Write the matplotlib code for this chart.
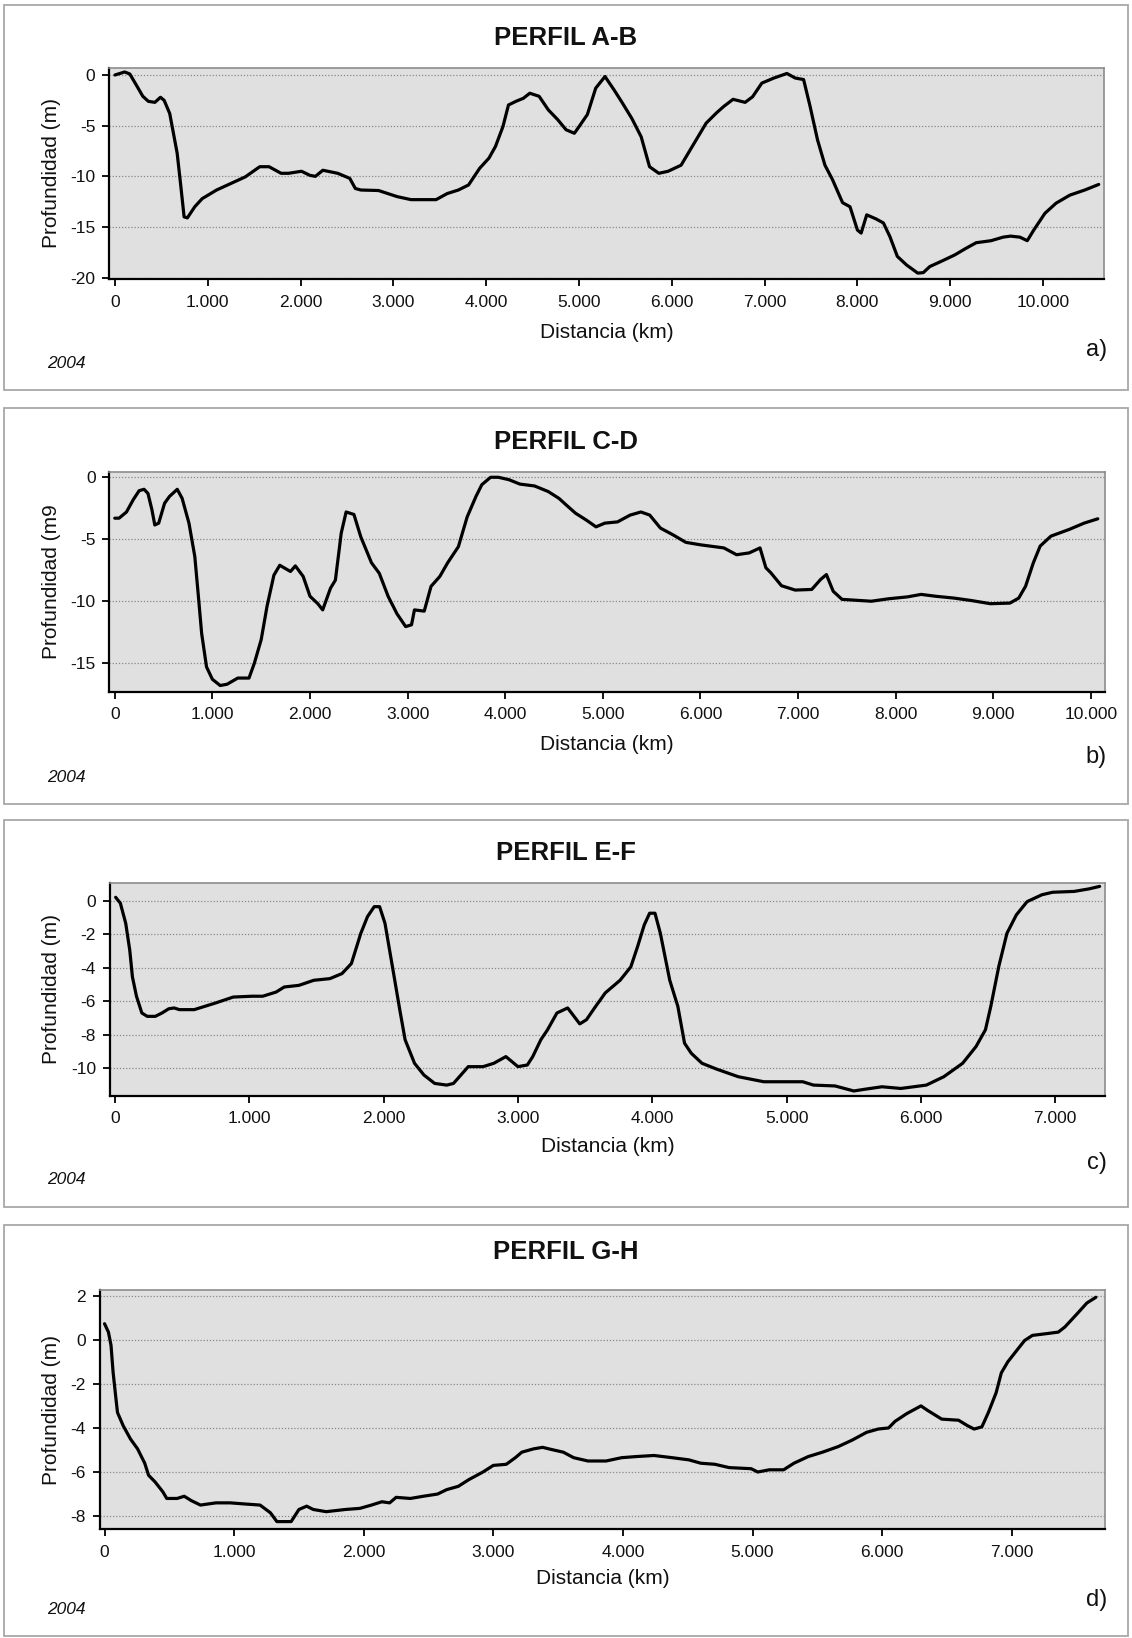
import matplotlib
matplotlib.use("Agg")
import matplotlib.pyplot as plt
from matplotlib.patches import Rectangle
from matplotlib.ticker import FixedLocator, FuncFormatter

# ---------------- data ----------------
titles = ["PERFIL A-B", "PERFIL C-D", "PERFIL E-F", "PERFIL G-H"]
ylabels = ["Profundidad (m)", "Profundidad (m9", "Profundidad (m)", "Profundidad (m)"]
xlabel = "Distancia (km)"
tags = ["a)", "b)", "c)", "d)"]
year = "2004"

# distance in thousands (tick label "1.000" = 1)
dist_ab = [0, 0.105, 0.16, 0.24, 0.30, 0.36, 0.43, 0.49, 0.53, 0.59,
           0.63, 0.67, 0.71, 0.745, 0.78, 0.86, 0.94, 1.095, 1.25, 1.405,
           1.56, 1.66, 1.79, 1.87, 2.01, 2.10, 2.16, 2.24, 2.40, 2.53,
           2.59, 2.65, 2.84, 3.04, 3.19, 3.46, 3.58, 3.70, 3.81, 3.93,
           4.03, 4.10, 4.18, 4.24, 4.32, 4.40, 4.47, 4.57, 4.67, 4.77,
           4.86, 4.95, 5.00, 5.09, 5.18, 5.28, 5.38, 5.47, 5.57, 5.67,
           5.76, 5.86, 5.96, 6.10, 6.23, 6.37, 6.48, 6.56, 6.66, 6.79,
           6.87, 6.97, 7.10, 7.24, 7.33, 7.42, 7.49, 7.57, 7.65, 7.73,
           7.84, 7.92, 8.00, 8.04, 8.10, 8.20, 8.28, 8.35, 8.43, 8.53,
           8.65, 8.71, 8.78, 8.90, 9.05, 9.17, 9.28, 9.44, 9.57, 9.65,
           9.75, 9.83, 9.90, 10.02, 10.14, 10.29, 10.45, 10.60]
depth_ab = [0.0, 0.3, 0.1, -1.15, -2.1, -2.6, -2.7, -2.2, -2.5, -3.8,
            -5.75, -7.7, -11.0, -14.0, -14.1, -13.0, -12.2, -11.35, -10.7, -10.05,
            -9.05, -9.05, -9.7, -9.7, -9.5, -9.9, -10.0, -9.4, -9.7, -10.2,
            -11.2, -11.35, -11.4, -12.0, -12.3, -12.3, -11.7, -11.35, -10.85, -9.2,
            -8.2, -7.05, -5.1, -2.96, -2.6, -2.3, -1.8, -2.1, -3.45, -4.4,
            -5.4, -5.75, -5.1, -3.9, -1.3, -0.15, -1.5, -2.8, -4.3, -6.1,
            -9.05, -9.7, -9.5, -8.9, -6.9, -4.75, -3.75, -3.1, -2.4, -2.7,
            -2.15, -0.8, -0.3, 0.15, -0.3, -0.45, -3.1, -6.4, -8.9, -10.3,
            -12.6, -13.0, -15.3, -15.6, -13.8, -14.2, -14.6, -15.95, -17.9, -18.75,
            -19.55, -19.5, -18.9, -18.4, -17.75, -17.1, -16.55, -16.35, -16.0, -15.9,
            -16.0, -16.35, -15.3, -13.65, -12.65, -11.85, -11.35, -10.8]

dist_cd = [0, 0.044, 0.12, 0.19, 0.25, 0.30, 0.34, 0.38, 0.41, 0.45,
           0.51, 0.56, 0.64, 0.69, 0.76, 0.82, 0.86, 0.89, 0.94, 1.00,
           1.08, 1.15, 1.26, 1.375, 1.43, 1.50, 1.56, 1.63, 1.69, 1.80,
           1.85, 1.93, 2.00, 2.08, 2.13, 2.21, 2.26, 2.32, 2.37, 2.45,
           2.52, 2.63, 2.71, 2.80, 2.89, 2.98, 3.04, 3.07, 3.17, 3.24,
           3.33, 3.41, 3.52, 3.61, 3.70, 3.76, 3.85, 3.93, 4.04, 4.15,
           4.30, 4.44, 4.55, 4.62, 4.72, 4.83, 4.93, 5.02, 5.15, 5.28,
           5.39, 5.48, 5.59, 5.72, 5.85, 6.00, 6.24, 6.37, 6.50, 6.61,
           6.67, 6.72, 6.83, 6.97, 7.14, 7.23, 7.29, 7.36, 7.45, 7.75,
           7.93, 8.12, 8.26, 8.41, 8.60, 8.78, 8.97, 9.17, 9.26, 9.33,
           9.41, 9.48, 9.59, 9.78, 9.93, 10.07]
depth_cd = [-3.3, -3.3, -2.8, -1.8, -1.08, -0.97, -1.3, -2.6, -3.85, -3.7,
            -2.1, -1.55, -0.97, -1.7, -3.7, -6.4, -9.9, -12.6, -15.3, -16.3,
            -16.8, -16.7, -16.2, -16.2, -15.0, -13.1, -10.4, -7.9, -7.1, -7.6,
            -7.15, -8.0, -9.6, -10.2, -10.7, -8.95, -8.3, -4.5, -2.8, -3.0,
            -4.8, -6.9, -7.75, -9.6, -11.0, -12.05, -11.9, -10.7, -10.8, -8.8,
            -8.0, -6.9, -5.6, -3.2, -1.55, -0.6, 0.0, 0.0, -0.2, -0.55,
            -0.7, -1.15, -1.7, -2.2, -2.9, -3.45, -4.0, -3.7, -3.6, -3.05,
            -2.8, -3.05, -4.1, -4.65, -5.25, -5.45, -5.7, -6.25, -6.1, -5.7,
            -7.3, -7.7, -8.75, -9.1, -9.05, -8.25, -7.85, -9.2, -9.85, -10.0,
            -9.8, -9.65, -9.45, -9.6, -9.75, -9.95, -10.2, -10.15, -9.75, -8.8,
            -6.9, -5.55, -4.75, -4.2, -3.7, -3.35]

dist_ef = [0.005, 0.04, 0.08, 0.11, 0.13, 0.16, 0.20, 0.24, 0.30, 0.35,
           0.40, 0.44, 0.48, 0.59, 0.67, 0.75, 0.88, 1.02, 1.10, 1.20,
           1.26, 1.37, 1.48, 1.60, 1.69, 1.76, 1.83, 1.88, 1.93, 1.97,
           2.01, 2.07, 2.12, 2.16, 2.23, 2.30, 2.38, 2.47, 2.52, 2.63,
           2.74, 2.82, 2.91, 3.00, 3.07, 3.11, 3.17, 3.22, 3.29, 3.37,
           3.46, 3.51, 3.57, 3.65, 3.76, 3.84, 3.89, 3.94, 3.98, 4.02,
           4.06, 4.13, 4.19, 4.24, 4.29, 4.37, 4.48, 4.64, 4.83, 5.12,
           5.20, 5.36, 5.50, 5.58, 5.71, 5.85, 6.04, 6.17, 6.31, 6.41,
           6.48, 6.52, 6.58, 6.64, 6.71, 6.79, 6.90, 6.98, 7.14, 7.25,
           7.33]
depth_ef = [0.2, -0.15, -1.35, -2.95, -4.55, -5.7, -6.7, -6.9, -6.9, -6.7,
            -6.45, -6.4, -6.5, -6.5, -6.3, -6.1, -5.75, -5.7, -5.7, -5.45,
            -5.15, -5.05, -4.75, -4.65, -4.35, -3.75, -1.95, -0.95, -0.36, -0.36,
            -1.35, -4.15, -6.5, -8.3, -9.7, -10.4, -10.9, -11.0, -10.9, -9.9,
            -9.9, -9.7, -9.3, -9.9, -9.8, -9.3, -8.3, -7.7, -6.7, -6.4,
            -7.35, -7.1, -6.4, -5.5, -4.75, -3.95, -2.75, -1.45, -0.75, -0.75,
            -1.95, -4.75, -6.3, -8.5, -9.1, -9.7, -10.05, -10.5, -10.8, -10.8,
            -11.0, -11.05, -11.35, -11.25, -11.1, -11.2, -11.0, -10.5, -9.7, -8.7,
            -7.7, -6.3, -3.9, -1.95, -0.85, -0.06, 0.35, 0.5, 0.55, 0.7,
            0.85]

dist_gh = [0, 0.03, 0.05, 0.066, 0.083, 0.10, 0.144, 0.20, 0.255, 0.31,
           0.34, 0.39, 0.45, 0.48, 0.56, 0.615, 0.67, 0.74, 0.86, 0.97,
           1.08, 1.20, 1.28, 1.33, 1.44, 1.50, 1.56, 1.61, 1.71, 1.86,
           1.97, 2.06, 2.14, 2.20, 2.25, 2.36, 2.46, 2.57, 2.64, 2.73,
           2.81, 2.92, 3.00, 3.10, 3.17, 3.22, 3.31, 3.38, 3.45, 3.54,
           3.62, 3.73, 3.87, 3.99, 4.10, 4.24, 4.38, 4.51, 4.60, 4.71,
           4.82, 4.99, 5.04, 5.13, 5.24, 5.32, 5.43, 5.54, 5.66, 5.77,
           5.88, 5.97, 6.05, 6.10, 6.19, 6.30, 6.35, 6.46, 6.59, 6.66,
           6.71, 6.77, 6.82, 6.88, 6.92, 6.97, 7.05, 7.10, 7.16, 7.27,
           7.36, 7.41, 7.50, 7.58, 7.65]
depth_gh = [0.73, 0.35, -0.25, -1.47, -2.4, -3.3, -3.9, -4.5, -4.95, -5.6,
            -6.15, -6.45, -6.9, -7.2, -7.2, -7.1, -7.3, -7.5, -7.4, -7.4,
            -7.45, -7.5, -7.85, -8.25, -8.25, -7.7, -7.55, -7.7, -7.8, -7.7,
            -7.65, -7.5, -7.35, -7.4, -7.15, -7.2, -7.1, -7.0, -6.8, -6.65,
            -6.35, -6.0, -5.7, -5.65, -5.35, -5.1, -4.95, -4.88, -4.98, -5.1,
            -5.35, -5.5, -5.5, -5.35, -5.3, -5.25, -5.35, -5.45, -5.6, -5.65,
            -5.8, -5.85, -6.0, -5.9, -5.9, -5.6, -5.3, -5.1, -4.85, -4.55,
            -4.2, -4.05, -4.0, -3.7, -3.35, -3.0, -3.2, -3.6, -3.65, -3.9,
            -4.05, -3.95, -3.3, -2.4, -1.5, -1.0, -0.4, -0.03, 0.2, 0.28,
            0.35, 0.58, 1.15, 1.67, 1.93]

xs = [dist_ab, dist_cd, dist_ef, dist_gh]
ys = [depth_ab, depth_cd, depth_ef, depth_gh]
xticks = [list(range(0, 11)), list(range(0, 11)), list(range(0, 8)), list(range(0, 8))]
yticks = [[0, -5, -10, -15, -20], [0, -5, -10, -15],
          [0, -2, -4, -6, -8, -10], [2, 0, -2, -4, -6, -8]]
xlims = [(-0.061, 10.66), (-0.055, 10.14), (-0.037, 7.37), (-0.035, 7.72)]
ylims = [(-20.16, 0.72), (-17.3, 0.45), (-11.65, 1.07), (-8.6, 2.26)]

# ---------------- layout (pixels) ----------------
W, H = 1132, 1638
frames = [(4.7, 390), (408, 804), (820, 1207), (1225, 1636)]       # top, bottom
axes_box = [(109.3, 67.7, 1104.3, 279.3), (109.4, 471.7, 1104.6, 691.7),
            (110, 882.7, 1105, 1096), (100, 1290, 1105, 1529.3)]  # L, T, R, B
title_y = [38, 442, 853, 1252]
xlabel_y = [333, 745, 1147, 1578]
tag_y = [350, 757, 1163, 1600]

plt.rcParams['font.family'] = ['Liberation Sans', 'DejaVu Sans']
plt.rcParams['axes.unicode_minus'] = False

fig = plt.figure(figsize=(W / 100, H / 100), dpi=100)
fig.patch.set_facecolor('white')


def fx(px):
    return px / W


def fy(py):
    return 1 - py / H


def thousands(v, pos):
    v = int(round(v))
    return "0" if v == 0 else f"{v}.000"


text_col = '#111111'
for i in range(4):
    top, bot = frames[i]
    fig.add_artist(Rectangle((fx(3.5), fy(bot)), fx(1128 - 3.5), (bot - top) / H,
                             transform=fig.transFigure, facecolor='white',
                             edgecolor='#a8a8a8', lw=1.3, zorder=0))
    L, T, R, B = axes_box[i]
    ax = fig.add_axes([fx(L), fy(B), (R - L) / W, (B - T) / H])
    ax.set_facecolor('#e0e0e0')
    ax.plot(xs[i], ys[i], color='black', lw=2.3, solid_joinstyle='round',
            solid_capstyle='round', zorder=3)
    ax.set_xlim(*xlims[i])
    ax.set_ylim(*ylims[i])
    ax.xaxis.set_major_locator(FixedLocator(xticks[i]))
    ax.xaxis.set_major_formatter(FuncFormatter(thousands))
    ax.yaxis.set_major_locator(FixedLocator(yticks[i]))
    ax.yaxis.grid(True, linestyle=(0, (1, 1.5)), color='#8a8a8a', lw=0.9)
    ax.set_axisbelow(True)
    for s in ['left', 'bottom']:
        ax.spines[s].set_color('black')
        ax.spines[s].set_linewidth(1.6)
    for s in ['top', 'right']:
        ax.spines[s].set_color('#8c8c8c')
        ax.spines[s].set_linewidth(1.2)
    ax.tick_params(axis='both', direction='out', length=5, width=1.3,
                   labelsize=12.5, labelcolor=text_col, color='black')
    ax.tick_params(axis='y', pad=5)
    ax.tick_params(axis='x', pad=6)

    ax.set_xlabel(xlabel, fontsize=15, color=text_col, va='center')
    ax.xaxis.set_label_coords(fx((L + R) / 2), fy(xlabel_y[i]), transform=fig.transFigure)
    ax.set_ylabel(ylabels[i], fontsize=15, color=text_col)
    ax.yaxis.set_label_coords(fx(61), fy((T + B) / 2), transform=fig.transFigure)

    fig.text(fx(566), fy(title_y[i]), titles[i], ha='center', va='center',
             fontsize=18.5, fontweight='bold', color=text_col)
    fig.text(fx(46.7), fy(bot - 27), year, ha='left', va='center',
             fontsize=12.5, style='italic', color=text_col)
    fig.text(fx(1107), fy(tag_y[i]), tags[i], ha='right', va='center',
             fontsize=17, color=text_col)

fig.savefig("out.png", dpi=100, facecolor='white')
